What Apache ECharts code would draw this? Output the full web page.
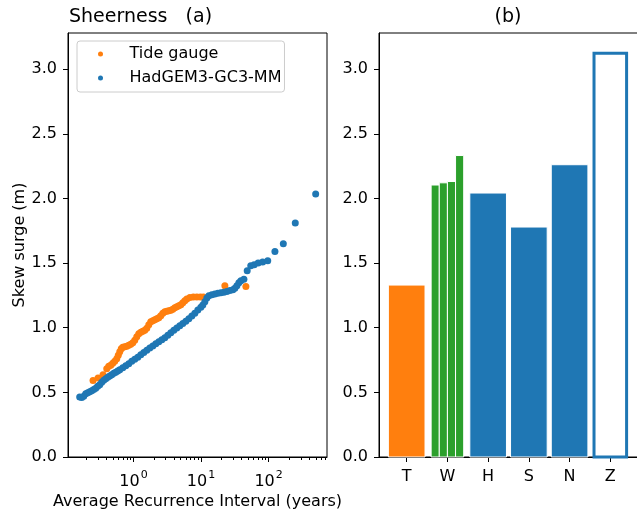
<!DOCTYPE html>
<html>
<head>
<meta charset="UTF-8">
<title>Sheerness</title>
<script src="https://cdn.jsdelivr.net/npm/echarts@6/dist/echarts.min.js"></script>
<style>
html, body { margin: 0; padding: 0; background: #fff; }
#chart { width: 637px; height: 510px; }
</style>
</head>
<body>
<div id="chart"></div>
<script>
// panel (a): [average recurrence interval (years), skew surge (m)]
var tideGauge = [[0.2520,0.592],[0.2990,0.611],[0.3544,0.637],[0.4022,0.683],[0.4306,0.702],[0.4611,0.710],
    [0.4935,0.725],[0.5284,0.741],[0.5658,0.760],[0.5955,0.787],[0.6266,0.814],[0.6597,0.838],[0.6944,0.849],
    [0.7432,0.853],[0.7957,0.857],[0.8519,0.865],[0.912,0.872],[0.9763,0.884],[1.045,0.903],[1.119,0.930],
    [1.198,0.954],[1.283,0.965],[1.374,0.973],[1.471,0.981],[1.574,0.996],[1.686,1.023],[1.804,1.046],
    [1.932,1.054],[2.068,1.062],[2.214,1.070],[2.371,1.077],[2.537,1.093],[2.718,1.112],[2.909,1.124],
    [3.113,1.128],[3.334,1.131],[3.570,1.135],[3.821,1.143],[4.091,1.155],[4.380,1.162],[4.691,1.170],
    [5.022,1.178],[5.375,1.193],[5.754,1.209],[6.162,1.222],[6.826,1.234],[7.691,1.237],[8.666,1.237],
    [9.763,1.237],[10.82,1.237],[22.52,1.325],[46.1,1.319]];
var hadgem = [[0.160,0.464],[0.1714,0.460],[0.1835,0.470],[0.1965,0.490],[0.2104,0.497],[0.2253,0.505],
    [0.2411,0.513],[0.2582,0.522],[0.2764,0.532],[0.2959,0.548],[0.3167,0.559],[0.3392,0.579],[0.3631,0.594],
    [0.3887,0.606],[0.4162,0.616],[0.4455,0.626],[0.4770,0.637],[0.5106,0.647],[0.5467,0.656],[0.5853,0.666],
    [0.6266,0.675],[0.6944,0.691],[0.7693,0.706],[0.8519,0.722],[0.9437,0.741],[1.045,0.756],[1.158,0.772],
    [1.283,0.791],[1.421,0.809],[1.574,0.826],[1.744,0.843],[1.932,0.859],[2.140,0.876],[2.371,0.892],
    [2.627,0.907],[2.909,0.923],[3.223,0.942],[3.570,0.961],[3.954,0.981],[4.380,0.998],[4.852,1.015],
    [5.375,1.032],[5.954,1.050],[6.596,1.070],[7.306,1.090],[8.092,1.112],[8.966,1.137],[9.931,1.159],
    [10.63,1.176],[11.38,1.201],[12.19,1.230],[13.05,1.247],[14.45,1.255],[16.01,1.261],[17.74,1.266],
    [19.65,1.270],[21.77,1.274],[24.11,1.281],[26.72,1.288],[29.59,1.294],[31.68,1.305],[33.92,1.325],
    [36.31,1.348],[38.87,1.363],[43.07,1.375],[48.2,1.441],[54.4,1.479],[61.1,1.487],[70.0,1.500],
    [81.6,1.508],[97.0,1.518],[124,1.590],[165,1.650],[248,1.810],[497,2.034]];

// panel (b)
var barCats = ['T', 'W', 'H', 'S', 'N', 'Z'];
var tideBar = 1.33;
var wBars = [2.104, 2.121, 2.131, 2.332];
var hsnBars = [2.042, 1.779, 2.261];
var zBar = 3.124;

// ticks
var yTicks = [0, 0.5, 1, 1.5, 2, 2.5, 3];
var xMajor = [1, 10, 100];
var xMinor = [0.2,0.3,0.4,0.5,0.6,0.7,0.8,0.9,2,3,4,5,6,7,8,9,20,30,40,50,60,70,80,90,200,300,400,500,600,700];

var font = 'DejaVu Sans';
var chart = echarts.init(document.getElementById('chart'));

function rectItem(fill, stroke, lw) {
    return function (params, api) {
        var x = api.value(0), h = api.value(1), w = api.value(2);
        var a = api.coord([x - w / 2, h]);
        var b = api.coord([x + w / 2, 0]);
        return {
            type: 'rect',
            shape: {x: a[0], y: a[1], width: b[0] - a[0], height: b[1] - a[1]},
            style: {fill: fill, stroke: stroke, lineWidth: lw}
        };
    };
}

// bar table for panel (b)
var tData = [[0, tideBar, 0.9]];
var wData = wBars.map(function (v, i) { return [1 + (i - 1.5) * 0.2, v, 0.2]; });
var hsnData = hsnBars.map(function (v, i) { return [2 + i, v, 0.9]; });
var zData = [[5, zBar, 0.8]];

var yAxisBase = {
    type: 'value', min: 0, max: 3.28,
    axisLine: {show: true, onZero: false, lineStyle: {color: '#000', width: 1}},
    axisTick: {show: true, length: 5, customValues: yTicks, lineStyle: {color: '#000'}},
    axisLabel: {customValues: yTicks, margin: 11, color: '#000', fontSize: 16, fontFamily: font,
        formatter: function (v) { return v.toFixed(1); }},
    splitLine: {show: false}
};

var option = {
    animation: false,
    backgroundColor: '#fff',
    title: [
        {text: 'Sheerness   (a)', left: 69, top: 8, padding: 0,
            textStyle: {fontSize: 19, fontWeight: 'normal', color: '#000', fontFamily: font}},
        {text: '(b)', left: 508, top: 8, padding: 0, textAlign: 'center',
            textStyle: {fontSize: 19, fontWeight: 'normal', color: '#000', fontFamily: font}}
    ],
    legend: {
        orient: 'vertical', left: 77, top: 41,
        padding: [4, 3, 5, 21],
        itemWidth: 30, itemHeight: 5, itemGap: 6,
        backgroundColor: '#fff', borderColor: '#ccc', borderWidth: 1, borderRadius: 3,
        textStyle: {fontSize: 16, fontFamily: font, color: '#000', lineHeight: 18, padding: [0, 0, 0, 9]},
        data: ['Tide gauge', 'HadGEM3-GC3-MM']
    },
    grid: [
        {left: 68, top: 33, width: 259, height: 424, show: true, borderColor: '#000', borderWidth: 1, outerBoundsMode: 'none'},
        {left: 379, top: 33, width: 259, height: 424, show: true, borderColor: '#000', borderWidth: 1, outerBoundsMode: 'none'},
        // same box as panel (a), only carries the minor ticks of the log axis
        {left: 68, top: 33, width: 259, height: 424, show: false, outerBoundsMode: 'none'}
    ],
    xAxis: [
        {
            type: 'log', logBase: 10, gridIndex: 0, min: 0.1074, max: 731, position: 'bottom',
            name: 'Average Recurrence Interval (years)', nameLocation: 'middle', nameGap: 37,
            nameMoveOverlap: false,
            nameTextStyle: {fontSize: 16, fontFamily: font, color: '#000'},
            axisLine: {show: true, onZero: false, lineStyle: {color: '#000', width: 1}},
            axisTick: {show: true, length: 5, customValues: xMajor, lineStyle: {color: '#000'}},
            axisLabel: {
                customValues: xMajor, margin: 13,
                formatter: function (v) {
                    return '{b|10}{s|' + Math.round(Math.log10(v)) + '}';
                },
                rich: {
                    b: {fontSize: 16, fontFamily: font, color: '#000', verticalAlign: 'bottom'},
                    s: {fontSize: 11, fontFamily: font, color: '#000', verticalAlign: 'top', padding: [0, 0, 9, 1]}
                }
            },
            splitLine: {show: false}
        },
        {
            type: 'log', logBase: 10, gridIndex: 2, min: 0.1074, max: 731, position: 'bottom',
            axisLine: {show: false, onZero: false},
            axisTick: {show: true, length: 3, customValues: xMinor, lineStyle: {color: '#000'}},
            axisLabel: {show: false},
            splitLine: {show: false}
        },
        {
            type: 'value', gridIndex: 1, min: -0.68, max: 5.68, position: 'bottom',
            axisLine: {show: true, onZero: false, lineStyle: {color: '#000', width: 1}},
            axisTick: {show: true, length: 5, customValues: [0, 1, 2, 3, 4, 5], lineStyle: {color: '#000'}},
            axisLabel: {customValues: [0, 1, 2, 3, 4, 5], margin: 12, color: '#000', fontSize: 16, fontFamily: font,
                formatter: function (v) { return barCats[Math.round(v)]; }},
            splitLine: {show: false}
        }
    ],
    yAxis: [
        echarts.util.merge({gridIndex: 0, name: 'Skew surge (m)', nameLocation: 'middle', nameGap: 40,
            nameMoveOverlap: false,
            nameTextStyle: {fontSize: 16, fontFamily: font, color: '#000'}}, yAxisBase),
        echarts.util.merge({gridIndex: 1}, yAxisBase),
        {type: 'value', gridIndex: 2, min: 0, max: 3.28, show: false}
    ],
    series: [
        {name: 'Tide gauge', type: 'scatter', xAxisIndex: 0, yAxisIndex: 0, data: tideGauge,
            symbolSize: 7, itemStyle: {color: '#ff7f0e', opacity: 1}},
        {name: 'HadGEM3-GC3-MM', type: 'scatter', xAxisIndex: 0, yAxisIndex: 0, data: hadgem,
            symbolSize: 7, itemStyle: {color: '#1f77b4', opacity: 1}},
        {type: 'custom', xAxisIndex: 2, yAxisIndex: 1, data: tData, renderItem: rectItem('#ff7f0e', '#fff', 1)},
        {type: 'custom', xAxisIndex: 2, yAxisIndex: 1, data: wData, renderItem: rectItem('#2ca02c', '#fff', 1)},
        {type: 'custom', xAxisIndex: 2, yAxisIndex: 1, data: hsnData, renderItem: rectItem('#1f77b4', '#fff', 1)},
        {type: 'custom', xAxisIndex: 2, yAxisIndex: 1, data: zData, renderItem: rectItem('#fff', '#1f77b4', 3)}
    ]
};
chart.setOption(option);
</script>
</body>
</html>
